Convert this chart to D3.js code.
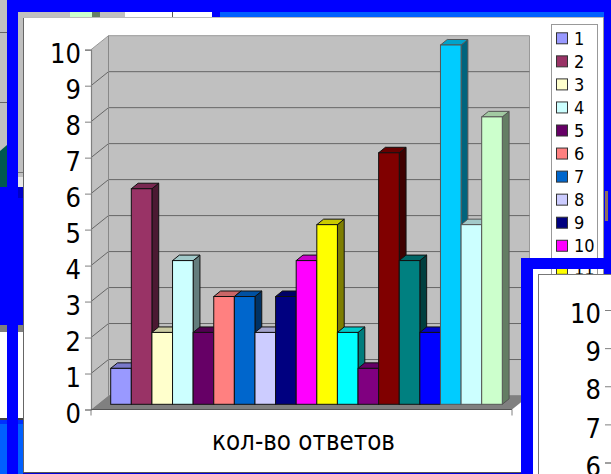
<!DOCTYPE html>
<html>
<head>
<meta charset="utf-8">
<script src="https://cdn.jsdelivr.net/npm/d3@7"></script>
<style>
html,body{margin:0;padding:0;background:#fff;overflow:hidden}
svg{display:block}
text{font-family:"DejaVu Sans",sans-serif;font-stretch:condensed}
</style>
</head>
<body>
<script>
const categories = ["1","2","3","4","5","6","7","8","9","10","11","12","13","14","15","16","17","18","19"];
const answers = [1,6,2,4,2,3,3,2,3,4,5,2,1,7,4,2,10,5,8];
const barColors = ["#9999ff","#993366","#ffffcc","#ccffff","#660066","#ff8080","#0066cc","#ccccff","#000080","#ff00ff","#ffff00","#00ffff","#800080","#800000","#008080","#0000ff","#00ccff","#ccffff","#ccffcc"];
const legendShown = categories.slice(0,11);
const yTicks = [0,1,2,3,4,5,6,7,8,9,10];
const nextChartTicks = [10,9,8,7,6];
const axisTitle = "кол-во ответов";

const W = 611, H = 474;
const svg = d3.select("body").append("svg").attr("width",W).attr("height",H);
const rect = (g,x,y,w,h,fill,stroke) => g.append("rect").attr("x",x).attr("y",y).attr("width",w).attr("height",h)
  .attr("fill",fill).attr("stroke",stroke||"none").attr("shape-rendering","crispEdges");

// ---- backdrop: other slide fragments behind the window
const bg = svg.append("g");
rect(bg,0,0,W,H,"#c0c0c0");
[32,102].forEach(y=>rect(bg,0,y,7,1,"#666"));
rect(bg,0,145,7,43,"#00594f");
bg.append("polygon").attr("points","0,145 7,145 0,151").attr("fill","#c0c0c0");
rect(bg,0,187,7,138,"#0000ff");
rect(bg,18,187,5,11,"#0000c8");
rect(bg,18,198,5,127,"#0000ff");
rect(bg,18,172,5,1,"#777"); rect(bg,18,177,5,10,"#e8e8e8");
rect(bg,0,325,23,7,"#808080");
rect(bg,0,332,23,86,"#ffffff");
rect(bg,0,418,23,2,"#444");
rect(bg,0,420,23,54,"#0060ff");
rect(bg,0,420,23,4,"#0030ff");
rect(bg,70,12,22,5,"#ccffcc"); rect(bg,92,12,8,5,"#668066");
rect(bg,125,12,90,5,"#ffffff"); rect(bg,172,12,1,5,"#555");
rect(bg,212,12,8,5,"#0000ff");
rect(bg,220,12,391,5,"#0060ff");

// ---- main blue frame and window
rect(bg,7,0,W-7,12,"#0000ff");
rect(bg,7,0,11,H,"#0000ff");
rect(bg,604,0,7,H,"#0000ff");
rect(bg,23,472,581,2,"#0000d8");
rect(bg,23,17,581,455,"#ffffff");
rect(bg,23,17,1,456,"#666666");
rect(bg,23,17,581,1,"#bbbbbb");
rect(bg,23,472,581,1,"#555555");
rect(bg,603,17,1,456,"#999999");
rect(bg,605,191,3,30,"#8c7060");

// ---- chart
const depthX = 17.5, depthY = 14;
const axisX = 91, axisRight = 512;
const y = d3.scaleLinear().domain([0,10]).range([409.5,49.7]);
const yBar = d3.scaleLinear().domain([0,10]).range([404.3,45]);
const x = d3.scaleBand().domain(categories).range([110.7,502.3]).padding(0);

const chart = svg.append("g");
const poly = (pts,fill,stroke,sw) => chart.append("polygon").attr("points",pts.map(p=>p.join(",")).join(" "))
  .attr("fill",fill).attr("stroke",stroke||"none").attr("stroke-width",sw||1);

// side wall + back wall
poly([[axisX,y(0)],[axisX+depthX,y(0)-depthY],[axisX+depthX,y(10)-depthY],[axisX,y(10)]],"#c0c0c0");
poly([[axisX+depthX,y(0)-depthY],[axisRight+depthX,y(0)-depthY],[axisRight+depthX,y(10)-depthY],[axisX+depthX,y(10)-depthY]],"#c0c0c0","#999999",1);
// floor
poly([[axisX,y(0)],[axisRight,y(0)],[axisRight+depthX,y(0)-depthY],[axisX+depthX,y(0)-depthY]],"#808080");

// grid
chart.selectAll(".g1").data(yTicks.filter(d=>d>0&&d<10)).enter().append("path")
  .attr("d",d=>`M${axisX},${y(d)}L${axisX+depthX},${y(d)-depthY}H${axisRight+depthX}`)
  .attr("fill","none").attr("stroke","#666").attr("stroke-width",1);
chart.append("line").attr("x1",axisX+depthX).attr("x2",axisX+depthX).attr("y1",y(10)-depthY).attr("y2",y(0)-depthY).attr("stroke","#888");
chart.append("line").attr("x1",axisX).attr("x2",axisX+depthX).attr("y1",y(10)).attr("y2",y(10)-depthY).attr("stroke","#999");

// y axis (d3 axis)
const yAxis = chart.append("g").attr("transform",`translate(${axisX},0)`)
  .call(d3.axisLeft(y).tickValues(yTicks).tickSize(6).tickPadding(4).tickFormat(d3.format("d")));
yAxis.selectAll("path,line").attr("stroke","#808080");
yAxis.select("path").attr("stroke-width",1.2);
yAxis.selectAll("text").attr("font-size",27).attr("font-family","DejaVu Sans").attr("fill","#000").attr("dy","0.47em");

// base line + end ticks
chart.append("line").attr("x1",axisX).attr("x2",axisRight).attr("y1",y(0)).attr("y2",y(0)).attr("stroke","#555");
[axisX,axisRight].forEach(px=>chart.append("line").attr("x1",px).attr("x2",px).attr("y1",y(0)).attr("y2",y(0)+6).attr("stroke","#808080"));

// 3-D bars
const bx = 6.8, by = 5.5;
const bars = chart.selectAll(".bar").data(answers.map((v,i)=>({v,i,c:categories[i],col:barColors[i]}))).enter().append("g").attr("class","bar");
const strokeOf = d => d.i>=16 ? "#555" : "#111";
bars.append("polygon").attr("points",d=>{
    const x0=x(d.c)+x.bandwidth(), t=yBar(d.v), b=yBar(0);
    return [[x0,t],[x0+bx,t-by],[x0+bx,b-by],[x0,b]].map(p=>p.join(",")).join(" ");
  }).attr("fill",d=>d3.rgb(d.col).darker(2).formatHex()).attr("stroke",strokeOf);
bars.append("polygon").attr("points",d=>{
    const x0=x(d.c), x1=x0+x.bandwidth(), t=yBar(d.v);
    return [[x0,t],[x1,t],[x1+bx,t-by],[x0+bx,t-by]].map(p=>p.join(",")).join(" ");
  }).attr("fill",d=>d3.rgb(d.col).darker(0.65).formatHex()).attr("stroke",strokeOf);
bars.append("rect").attr("x",d=>x(d.c)).attr("y",d=>yBar(d.v)).attr("width",x.bandwidth()).attr("height",d=>yBar(0)-yBar(d.v))
  .attr("fill",d=>d.col).attr("stroke",strokeOf);

// axis title
chart.append("text").attr("x",303.5).attr("y",450).attr("text-anchor","middle")
  .attr("font-size",27).attr("textLength",183).attr("lengthAdjust","spacingAndGlyphs").attr("fill","#000").text(axisTitle);

// legend
const legend = svg.append("g");
rect(legend,551,24.5,46.5,445,"#fff","#999");
const ly = d3.scalePoint().domain(legendShown).range([38.3,38.3+23.05*10]);
const li = legend.selectAll(".li").data(legendShown).enter().append("g").attr("class","li");
li.append("rect").attr("x",556.5).attr("y",d=>ly(d)-5.5).attr("width",11).attr("height",11)
  .attr("fill",(d,i)=>barColors[i]).attr("stroke","#333");
li.append("text").attr("x",574).attr("y",d=>ly(d)).attr("dy","0.36em").attr("font-size",18).attr("fill","#000").text(d=>d);

// ---- next overlapping window, bottom right
const next = svg.append("g");
rect(next,521,258,90,11,"#0000ff");
rect(next,521,258,12,216,"#0000ff");
rect(next,533,269,5,205,"#ffffff");
rect(next,538,274,73,200,"#ffffff");
rect(next,538,274,73,1,"#777");
rect(next,538,274,1,200,"#777");
const ny = d3.scaleLinear().domain([10,6]).range([310,462.5]);
const ng = next.append("g").attr("transform","translate(611,0)")
  .call(d3.axisLeft(ny).tickValues(nextChartTicks).tickSize(6).tickPadding(4).tickFormat(d3.format("d")));
ng.select("path").attr("stroke","#808080");
ng.selectAll("line").attr("stroke","#808080");
ng.selectAll("text").attr("font-size",27).attr("font-family","DejaVu Sans").attr("fill","#000").attr("dy","0.47em");
</script>
</body>
</html>
